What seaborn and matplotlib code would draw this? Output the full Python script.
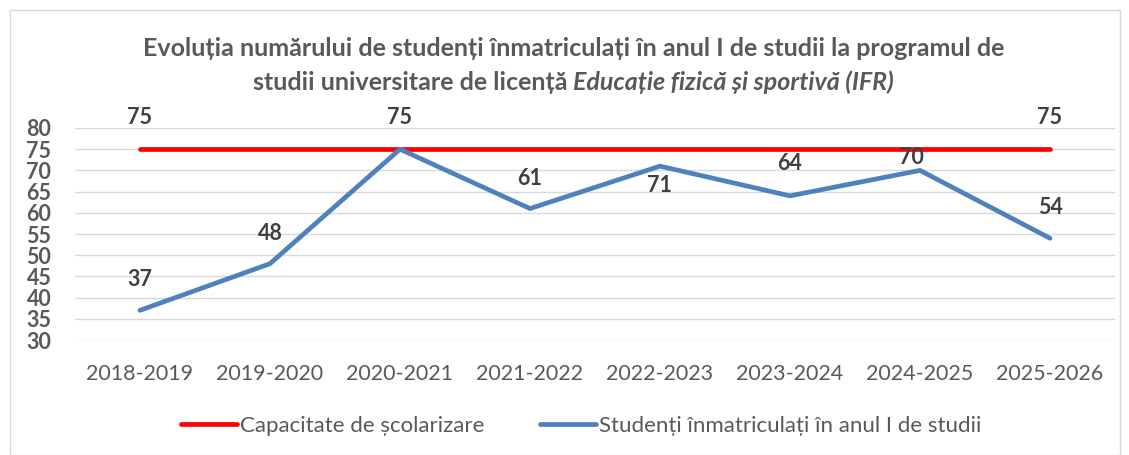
import matplotlib
matplotlib.use("Agg")
import matplotlib.pyplot as plt
import seaborn as sns
import pandas as pd
from matplotlib.patches import Rectangle

years = ["2018-2019", "2019-2020", "2020-2021", "2021-2022",
         "2022-2023", "2023-2024", "2024-2025", "2025-2026"]
capacity = [75, 75, 75, 75, 75, 75, 75, 75]
enrolled = [37, 48, 75, 61, 71, 64, 70, 54]
series_names = ["Capacitate de școlarizare", "Studenți înmatriculați în anul I de studii"]
title_line1 = "Evoluția numărului de studenți înmatriculați în anul I de studii la programul de"
title_line2a = "studii universitare de licență "
title_line2b = "Educație fizică și sportivă (IFR)"

sns.set_theme(style="white")
plt.rcParams['font.family'] = ['Lato', 'DejaVu Sans']

df = pd.DataFrame({
    "year": years * 2,
    "value": capacity + enrolled,
    "series": [series_names[0]] * len(years) + [series_names[1]] * len(years),
})
df["x"] = list(range(len(years))) * 2

fig = plt.figure(figsize=(11.29, 4.55), dpi=100)
ax = fig.add_axes([0.0664, 0.2527, 0.9212, 0.466])

sns.lineplot(data=df, x="x", y="value", hue="series",
             palette={series_names[0]: "#FF0000", series_names[1]: "#4F81BD"},
             linewidth=3.4, ax=ax, legend=True, solid_capstyle="round")

ax.set_xlim(-0.5, len(years) - 0.5)
ax.set_ylim(30, 80)
ax.set_yticks(range(30, 81, 5))
ax.set_xticks(range(len(years)))
ax.set_xticklabels(years)
ax.set_xlabel("")
ax.set_ylabel("")
for s in ax.spines.values():
    s.set_visible(False)
ax.yaxis.grid(True, color="#D9D9D9", linewidth=1.0)
ax.set_axisbelow(True)
ax.tick_params(axis="y", length=0, pad=17, labelsize=15.5, labelcolor="#595959")
ax.tick_params(axis="x", length=0, pad=17, labelsize=15.5, labelcolor="#595959")
for t in ax.get_yticklabels():
    t.set_fontweight("bold")

lab_kw = dict(textcoords="offset points", ha="center", va="center",
              fontsize=15.5, fontweight="bold", color="#404040")
# capacity labels at ends
for i in (0, len(years) - 1):
    ax.annotate(str(capacity[i]), xy=(i, capacity[i]), xytext=(0, 23), **lab_kw)
# enrolled labels
offsets = [(0, 22), (0, 22), (0, 23), (0, 22), (0, -14), (0, 23), (-6, 9), (0, 22)]
for i, v in enumerate(enrolled):
    ax.annotate(str(v), xy=(i, v), xytext=offsets[i], **lab_kw)

leg = ax.legend(loc="upper center", bbox_to_anchor=(0.487, -0.265), ncol=2, frameon=False,
                fontsize=16, handlelength=2.5, handletextpad=0.15, columnspacing=2.5)
for t in leg.get_texts():
    t.set_color("#595959")
for h in leg.get_lines():
    h.set_linewidth(3.4)

fig.text(0.508, 1 - 48 / 455, title_line1, ha="center", va="center",
         fontsize=18, fontweight="bold", color="#595959")
t1 = fig.text(0.0, 1 - 82 / 455, title_line2a, ha="left", va="center",
              fontsize=18, fontweight="bold", color="#595959")
t2 = fig.text(0.0, 1 - 82 / 455, title_line2b, ha="left", va="center",
              fontsize=18, fontweight="bold", fontstyle="italic", color="#595959")
fig.canvas.draw()
r = fig.canvas.get_renderer()
w1 = t1.get_window_extent(r).width
w2 = t2.get_window_extent(r).width
total = w1 + w2
start = 0.508 * 1129 - total / 2
t1.set_x(start / 1129)
t2.set_x((start + w1) / 1129)

fig.patches.append(Rectangle((10 / 1129, 0), 1110 / 1129, 1 - 10 / 455,
                             transform=fig.transFigure, fill=False,
                             edgecolor="#D9D9D9", linewidth=1.0))

fig.savefig("out.png", dpi=100)
